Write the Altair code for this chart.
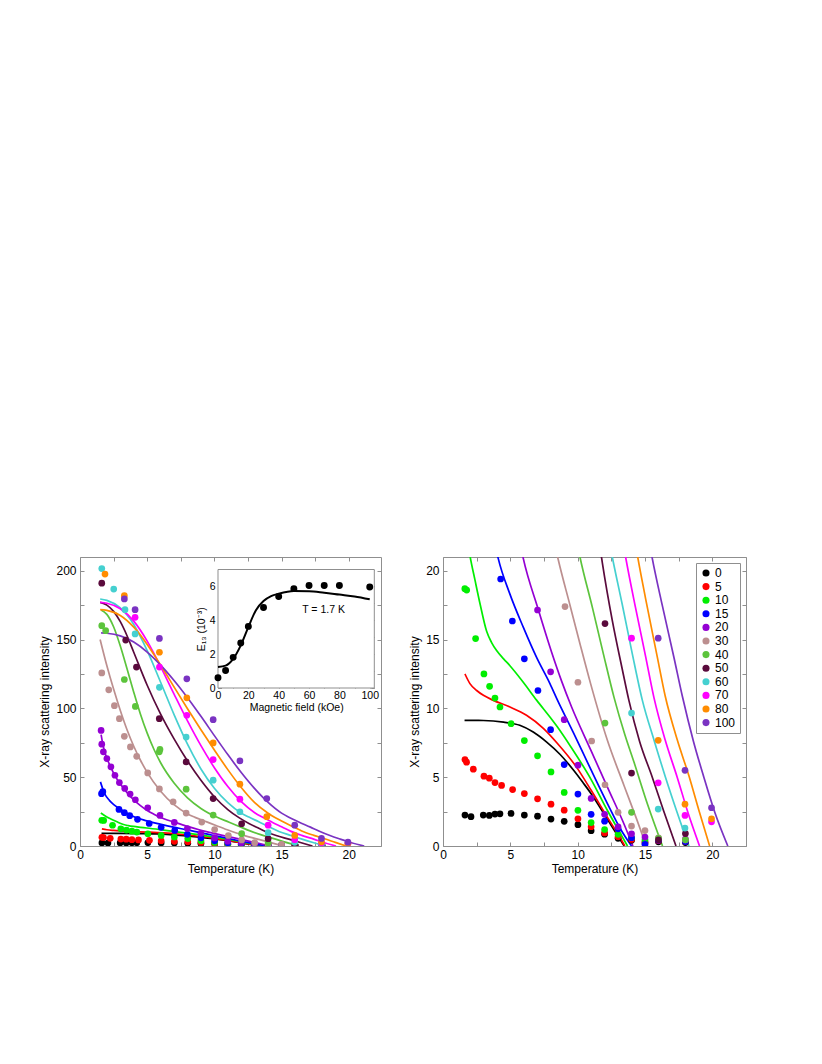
import altair as alt
import pandas as pd

FONT = "Liberation Sans"
FRAME = "#8f8f8f"

FIELDS = ["0", "5", "10", "15", "20", "30", "40", "50", "60", "70", "80", "100"]
COLORS = ["#000000", "#ff0000", "#00ee00", "#0000ff", "#9400d3", "#bc8f8f",
          "#5cc43c", "#5a0a3c", "#45d0d0", "#ff00ff", "#ff8c00", "#7a33c2"]

# measured points (temperature K, intensity)
pts_0 = [(1.63, 2.25), (2.08, 2.13), (2.99, 2.25), (3.44, 2.22), (3.86, 2.32), (4.23, 2.34),
         (5.05, 2.37), (6.04, 2.25), (7.02, 2.17), (8.02, 1.96), (9.0, 1.79), (10.02, 1.55),
         (11.0, 1.11), (12.0, 0.86), (13.0, 0.56), (14.0, 0.42), (15.0, 0.22), (16.0, 0.3), (18.0, 0.25)]
pts_5 = [(1.63, 6.28), (1.75, 6.09), (2.25, 5.58), (3.04, 5.07), (3.44, 4.93), (3.86, 4.61),
         (4.35, 4.4), (5.17, 4.1), (6.04, 3.81), (7.02, 3.43), (8.02, 3.04), (9.0, 2.6),
         (10.02, 1.98), (11.0, 1.4), (12.0, 0.95), (13.0, 0.68), (14.0, 0.48), (15.0, 0.3), (16.0, 0.38), (18.0, 0.32)]
pts_10 = [(1.62, 18.7), (1.76, 18.6), (2.42, 15.07), (3.04, 12.5), (3.46, 11.6), (3.86, 10.75),
          (4.23, 10.1), (5.05, 8.89), (6.04, 7.66), (7.02, 6.55), (8.02, 5.38), (9.0, 3.89),
          (10.02, 2.59), (11.0, 1.7), (12.0, 1.2), (13.0, 0.85), (14.0, 0.6), (15.0, 0.45), (16.0, 0.5), (18.0, 0.4)]
pts_15 = [(1.6, 38.0), (1.7, 39.5), (2.9, 26.6), (3.3, 24.2), (3.7, 22.0), (4.28, 19.4),
          (5.15, 16.35), (6.04, 13.6), (7.05, 11.3), (7.99, 8.45), (9.0, 5.92), (10.02, 3.77),
          (11.0, 2.3), (12.0, 1.8), (13.0, 1.25), (14.0, 0.6), (15.0, 0.12), (16.0, 0.42), (18.0, 0.32)]
pts_20 = [(1.57, 84.0), (1.62, 74.0), (1.74, 68.4), (2.0, 63.5), (2.3, 57.5), (2.6, 51.4),
          (2.93, 46.1), (3.33, 41.8), (3.73, 37.7), (4.12, 33.6), (5.04, 27.8), (5.95, 22.2),
          (7.02, 17.15), (7.99, 12.66), (9.0, 9.18), (10.02, 5.87), (11.0, 3.46), (12.0, 2.3),
          (13.0, 1.4), (14.0, 0.89), (15.0, 0.65), (16.0, 0.52), (18.0, 0.5)]
pts_30 = [(1.62, 125.8), (2.14, 113.5), (2.56, 102.0), (2.93, 92.5), (3.3, 79.7), (3.75, 72.0),
          (4.22, 65.2), (5.04, 53.1), (5.91, 41.5), (6.93, 32.1), (7.9, 23.9), (9.06, 17.4),
          (10.02, 11.9), (11.04, 7.63), (12.03, 4.45), (13.0, 2.45), (14.0, 1.45), (15.0, 1.12), (16.0, 0.6), (18.0, 0.45)]
pts_40 = [(1.62, 160.1), (1.91, 156.5), (3.3, 121.0), (4.12, 101.4), (5.9, 68.4), (5.95, 70.2),
          (7.9, 41.3), (9.91, 22.5), (12.03, 8.93), (14.0, 2.45), (16.0, 0.55), (18.0, 0.45)]
pts_50 = [(1.62, 191.0), (3.4, 149.6), (4.2, 130.0), (5.9, 92.5), (7.9, 61.1), (9.91, 34.5),
          (12.03, 16.16), (14.0, 5.3), (16.0, 0.45), (18.0, 0.9)]
pts_60 = [(1.62, 201.6), (2.51, 186.7), (3.35, 171.7), (4.1, 154.1), (5.91, 115.3), (7.9, 79.2),
          (9.91, 47.8), (11.9, 24.9), (14.0, 9.66), (15.98, 2.68), (17.97, 1.3)]
pts_70 = [(4.1, 166.2), (5.91, 130.0), (7.95, 95.0), (9.91, 62.8), (11.9, 34.0), (14.0, 15.1),
          (15.98, 4.59), (17.97, 2.22), (19.94, 1.76)]
pts_80 = [(1.86, 197.6), (3.3, 181.9), (5.91, 140.8), (7.95, 107.7), (9.91, 74.9), (11.9, 44.9),
          (13.9, 21.3), (15.98, 7.68), (17.97, 3.04), (19.94, 1.98)]
pts_100 = [(3.3, 179.5), (4.1, 171.7), (5.91, 150.8), (7.95, 121.5), (9.91, 91.8), (11.9, 61.8),
           (13.9, 34.5), (15.98, 15.1), (17.97, 5.5), (19.94, 2.78)]

# fitted curves (temperature K, intensity)
fit_0 = [(1.6, 9.13), (3.0, 9.12), (4.5, 9.0), (5.7, 8.77), (6.7, 8.28), (7.7, 7.55), (8.7, 6.65),
         (9.7, 5.5), (10.4, 4.6), (11.0, 3.8), (12.2, 1.95), (13.0, 0.7), (13.45, 0.0)]
fit_5 = [(1.63, 12.5), (2.0, 11.8), (2.5, 11.3), (3.0, 10.95), (3.7, 10.6), (4.97, 10.1), (6.2, 9.5),
         (7.45, 8.55), (8.5, 7.45), (9.9, 5.75), (11.0, 4.05), (12.2, 2.1), (13.0, 0.85), (13.5, 0.0)]
fit_10 = [(1.55, 24.0), (2.0, 21.1), (2.38, 19.3), (2.75, 17.6), (3.24, 15.6), (3.6, 14.8), (3.98, 14.2),
          (4.5, 13.6), (4.97, 13.1), (5.96, 11.9), (6.95, 10.6), (8.0, 9.3), (8.5, 8.65), (9.5, 7.2),
          (10.96, 4.9), (12.2, 2.6), (13.0, 1.2), (13.7, 0.0)]
fit_15 = [(1.52, 46.6), (1.81, 38.5), (2.2, 33.0), (2.56, 29.7), (3.3, 24.9), (4.1, 20.9), (4.97, 18.3),
          (5.96, 15.9), (6.95, 13.7), (7.94, 11.8), (8.5, 10.6), (9.7, 8.2), (10.96, 5.6), (12.2, 3.1),
          (13.2, 1.2), (14.0, 0.0)]
fit_20 = [(1.57, 81.0), (1.7, 74.0), (1.85, 68.0), (2.0, 63.8), (2.3, 57.0), (2.6, 51.2), (3.0, 45.0),
          (3.5, 38.8), (4.0, 33.5), (4.5, 29.3), (5.0, 25.8), (5.5, 23.1), (5.96, 20.9), (7.07, 17.2),
          (8.06, 14.1), (8.8, 12.0), (9.55, 10.1), (10.96, 7.0), (12.2, 4.3), (13.44, 1.6), (14.1, 0.0)]
fit_30 = [(1.5, 150.0), (2.0, 131.0), (2.5, 114.0), (3.0, 98.5), (3.5, 84.5), (4.0, 72.5), (4.5, 62.3),
          (5.0, 53.5), (6.0, 39.8), (7.0, 30.0), (8.0, 23.3), (8.56, 20.8), (9.43, 17.5), (10.17, 14.7),
          (10.96, 11.8), (12.2, 7.7), (13.44, 4.4), (14.4, 1.9), (15.1, 0.0)]
fit_40 = [(1.57, 171.5), (2.0, 168.3), (2.5, 159.3), (3.0, 145.3), (3.5, 128.8), (4.0, 111.8),
          (4.5, 95.8), (5.0, 82.0), (5.5, 70.3), (6.0, 60.5), (7.0, 45.8), (8.0, 35.0), (9.0, 27.3),
          (10.17, 21.0), (11.1, 17.3), (11.9, 14.0), (12.7, 10.8), (13.5, 8.1), (14.18, 6.1),
          (15.2, 3.0), (16.3, 0.0)]
fit_50 = [(1.5, 177.0), (2.0, 175.0), (2.5, 170.5), (3.0, 163.0), (3.5, 152.8), (4.0, 140.8),
          (5.0, 116.8), (6.0, 95.8), (7.0, 77.8), (8.0, 61.8), (9.0, 47.8), (10.0, 35.8), (11.0, 26.5),
          (11.83, 20.6), (12.57, 16.4), (13.3, 12.9), (13.8, 10.6), (14.6, 7.6), (15.54, 5.0),
          (16.4, 2.5), (17.3, 0.0)]
fit_60 = [(1.5, 179.5), (2.0, 178.5), (3.0, 173.0), (4.0, 161.0), (5.0, 142.0), (6.0, 119.0),
          (7.0, 95.5), (8.0, 74.0), (9.0, 56.0), (10.0, 42.0), (11.0, 31.5), (12.0, 23.9),
          (12.57, 21.0), (13.3, 17.6), (14.05, 14.0), (14.8, 10.6), (15.7, 7.6), (16.52, 5.0),
          (17.4, 2.4), (18.26, 0.0)]
fit_70 = [(1.5, 177.0), (2.0, 176.4), (3.0, 172.4), (4.0, 163.4), (5.0, 148.9), (6.0, 130.4),
          (7.0, 110.4), (8.0, 90.9), (9.0, 72.9), (10.0, 56.9), (11.0, 43.2), (12.0, 32.2),
          (13.0, 24.2), (13.56, 21.0), (14.3, 17.3), (15.04, 13.8), (15.66, 10.8), (16.5, 7.7),
          (17.39, 5.0), (18.2, 2.4), (19.05, 0.0)]
fit_80 = [(1.5, 171.7), (2.0, 171.25), (3.0, 167.5), (4.0, 159.0), (5.0, 146.5), (6.0, 131.5),
          (7.0, 115.5), (8.0, 99.75), (9.0, 84.5), (10.0, 69.75), (11.0, 55.5), (12.0, 42.5),
          (13.0, 31.5), (14.0, 23.8), (14.25, 22.2), (15.04, 18.0), (15.9, 13.8), (16.5, 10.9),
          (17.4, 7.7), (18.26, 5.1), (19.0, 2.6), (19.8, 0.0)]
fit_100 = [(1.57, 154.8), (2.0, 154.6), (3.0, 152.7), (4.0, 148.2), (5.0, 140.9), (6.0, 131.4),
           (7.0, 120.2), (8.0, 107.7), (9.0, 94.2), (10.0, 80.2), (11.0, 66.4), (12.0, 53.4),
           (13.0, 41.7), (14.0, 31.7), (15.0, 23.9), (15.54, 20.9), (16.28, 17.5), (17.15, 13.7),
           (17.77, 10.9), (18.6, 7.6), (19.37, 5.0), (20.2, 2.4), (21.15, 0.0)]

# inset: E13 vs magnetic field at T = 1.7 K
inset_H = [0, 5, 10, 15, 20, 30, 40, 50, 60, 70, 80, 100]
inset_E = [0.61, 1.03, 1.81, 2.66, 3.64, 4.75, 5.4, 5.87, 6.05, 6.05, 6.05, 5.97]
inset_fit_H = [0, 5, 10, 15, 20, 25, 30, 35, 40, 50, 60, 70, 80, 90, 100]
inset_fit_E = [1.24, 1.32, 1.72, 2.52, 3.6, 4.6, 5.14, 5.43, 5.57, 5.73, 5.72, 5.63, 5.52, 5.41, 5.24]
inset_note = "T = 1.7 K"

ALL_PTS = [pts_0, pts_5, pts_10, pts_15, pts_20, pts_30, pts_40, pts_50, pts_60, pts_70, pts_80, pts_100]
ALL_FIT = [fit_0, fit_5, fit_10, fit_15, fit_20, fit_30, fit_40, fit_50, fit_60, fit_70, fit_80, fit_100]


def long_frame(series):
    rows = []
    for f, pts in zip(FIELDS, series):
        for t, v in pts:
            rows.append({"T": t, "I": v, "H": f})
    return pd.DataFrame(rows)


pts_df = long_frame(ALL_PTS)
fit_df = long_frame(ALL_FIT)
inset_pts_df = pd.DataFrame({"H": inset_H, "E": inset_E})
inset_fit_df = pd.DataFrame({"H": inset_fit_H, "E": inset_fit_E})


def tick_axis(orient, values, offset, size=4):
    return alt.Axis(orient=orient, values=values, offset=offset, tickSize=size, labels=False,
                    domain=False, grid=False, title="", ticks=True, tickColor=FRAME, tickWidth=1)


def label_axis(orient, values, title, fs=12, lp=3, tp=4, offset=0):
    return alt.Axis(orient=orient, values=values, offset=offset, ticks=False, domain=False, grid=False,
                    title=title, labelFont=FONT, labelFontSize=fs, titleFont=FONT, titleFontSize=fs,
                    titleFontWeight="normal", labelPadding=lp, titlePadding=tp,
                    labelColor="black", titleColor="black", labelFlush=False)


def steps(maxv, step):
    n = int(round(maxv / step))
    return [round(i * step, 3) for i in range(n + 1)]


def panel(xmax, ymax, ymajor, yminor_step, width, height, legend, with_inset):
    xs = alt.Scale(domain=[0, xmax], nice=False, zero=False)
    ys = alt.Scale(domain=[0, ymax], nice=False, zero=False)
    xmajor = [0, 5, 10, 15, 20]
    xminor = steps(22.5, 2.5)
    yminor = steps(ymax, yminor_step)
    cscale = alt.Scale(domain=FIELDS, range=COLORS)

    lines = alt.Chart(fit_df).mark_line(strokeWidth=1.7, interpolate="monotone", clip=True).encode(
        x=alt.X("T:Q", scale=xs, axis=label_axis("bottom", xmajor, "Temperature (K)", lp=3, tp=3)),
        y=alt.Y("I:Q", scale=ys, axis=label_axis("left", ymajor, "X-ray scattering intensity", lp=4, tp=4)),
        color=alt.Color("H:N", scale=cscale, legend=None),
    )
    if legend:
        leg = alt.Legend(orient="top-right", offset=6, title=None, strokeColor=FRAME, padding=4,
                         labelFont=FONT, labelFontSize=12, labelColor="black", symbolType="circle",
                         symbolSize=50, symbolStrokeWidth=0, rowPadding=1.6, fillColor="white",
                         labelOffset=3)
    else:
        leg = None
    pts = alt.Chart(pts_df).mark_circle(size=45, opacity=1, clip=True).encode(
        x=alt.X("T:Q", scale=xs, axis=tick_axis("bottom", xminor, -4)),
        y=alt.Y("I:Q", scale=ys, axis=tick_axis("left", yminor, -4)),
        color=alt.Color("H:N", scale=cscale, legend=leg),
    )
    mirror = alt.Chart(pts_df).mark_circle(size=45, opacity=0, clip=True).encode(
        x=alt.X("T:Q", scale=xs, axis=tick_axis("top", xminor, -4)),
        y=alt.Y("I:Q", scale=ys, axis=tick_axis("right", yminor, -4)),
    )
    layers = [lines, pts, mirror]

    if with_inset:
        ix0, ix1 = 138, 294.3
        iy0, iy1 = 131, 12.5
        ixs = alt.Scale(domain=[0, 103], range=[ix0, ix1], nice=False, zero=False)
        iys = alt.Scale(domain=[0, 7], range=[iy0, iy1], nice=False, zero=False)
        ts = 3.5
        frame = alt.Chart(pd.DataFrame({"k": [0]})).mark_rect(
            fill="white", stroke=FRAME, strokeWidth=1).encode(
            x=alt.X(datum=0, type="quantitative", scale=ixs,
                    axis=label_axis("bottom", [0, 20, 40, 60, 80, 100], "Magnetic field (kOe)",
                                    fs=10.5, lp=2, tp=2, offset=-(height - iy0))),
            x2=alt.X2(datum=103),
            y=alt.Y(datum=0, type="quantitative", scale=iys,
                    axis=label_axis("left", [0, 2, 4, 6], "E₁₃ (10⁻³)", fs=10.5, lp=3, tp=3,
                                    offset=-ix0)),
            y2=alt.Y2(datum=7),
        )
        ipts = alt.Chart(inset_pts_df).mark_circle(size=48, color="black", opacity=1).encode(
            x=alt.X("H:Q", scale=ixs, axis=tick_axis("bottom", steps(100, 10), -(height - iy0 + ts), ts)),
            y=alt.Y("E:Q", scale=iys, axis=tick_axis("left", steps(7, 1), -(ix0 + ts), ts)),
        )
        iline = alt.Chart(inset_fit_df).mark_line(color="black", strokeWidth=2, interpolate="monotone").encode(
            x=alt.X("H:Q", scale=ixs, axis=tick_axis("top", steps(100, 10), -(iy1 + ts), ts)),
            y=alt.Y("E:Q", scale=iys, axis=tick_axis("right", steps(7, 1), -(width - ix1 + ts), ts)),
        )
        itext = alt.Chart(pd.DataFrame({"note": [inset_note]})).mark_text(
            align="left", baseline="middle", font=FONT, fontSize=10.5, color="black").encode(
            x=alt.X(datum=55.5, type="quantitative", scale=ixs, axis=None),
            y=alt.Y(datum=4.62, type="quantitative", scale=iys, axis=None),
            text="note:N",
        )
        layers += [frame, iline, ipts, itext]

    return alt.layer(*layers).resolve_scale(x="independent", y="independent").resolve_legend(
        color="independent").properties(width=width, height=height)


left = panel(22.4, 210, [0, 50, 100, 150, 200], 25, 301, 289, False, True)
right = panel(22.5, 21, [0, 5, 10, 15, 20], 2.5, 303, 289, True, False)

chart = alt.hconcat(left, right, spacing=26).resolve_scale(color="independent").properties(
    padding={"left": 30, "top": 548, "right": 5, "bottom": 5},
    background="white",
).configure_view(stroke=FRAME, strokeWidth=1)

chart.save("out.html", embed_options={"renderer": "svg", "actions": False})
